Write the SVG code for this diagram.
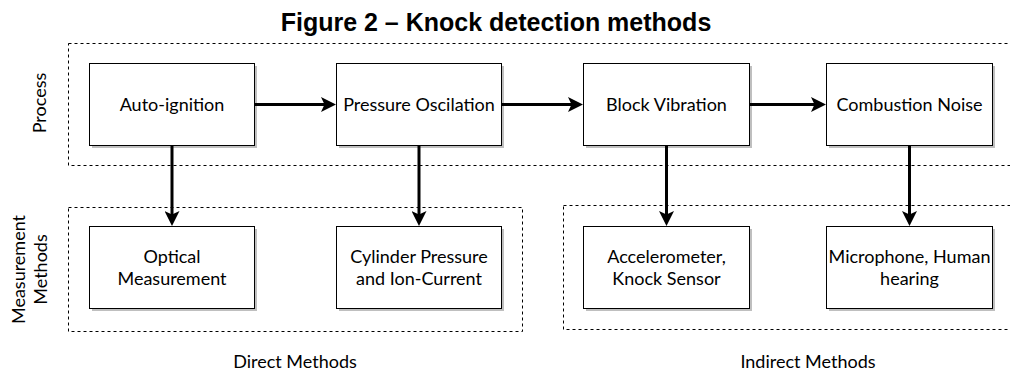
<svg xmlns="http://www.w3.org/2000/svg" width="1010" height="374" viewBox="0 0 1010 374">
<style>
.t{font-family:Lato,"Noto Sans",sans-serif;font-size:18px;fill:#000;text-anchor:middle}
.box{fill:#fff;stroke:#000;stroke-width:1}
.sh{fill:#000;fill-opacity:0.25}
.dash{fill:none;stroke:#000;stroke-width:1;stroke-dasharray:3,3}
.c{fill:none;stroke:#000;stroke-width:3}
.title{font-family:"Liberation Sans",Arial,sans-serif;font-size:25px;font-weight:bold;text-anchor:middle}
</style>
<defs>
<marker id="ah" markerWidth="15" markerHeight="15" refX="5" refY="7.5" orient="auto" markerUnits="userSpaceOnUse" viewBox="0 0 15 15">
<path d="M0,0 L15,7.5 L0,15 L3.5,7.5 Z" fill="#000"/>
</marker>
</defs>
<text class="title" x="496" y="31">Figure 2 – Knock detection methods</text>
<g id="groups">
<rect class="dash" x="68.5" y="43.5" width="950" height="122"/>
<rect class="dash" x="68.5" y="207.5" width="454" height="124"/>
<rect class="dash" x="563.5" y="205.5" width="460" height="124"/>
</g>
<g id="labels">
<text class="t" transform="translate(46,103) rotate(-90)">Process</text>
<text class="t" transform="translate(25,269.5) rotate(-90)">Measurement</text>
<text class="t" transform="translate(46.5,269.5) rotate(-90)">Methods</text>
<text class="t" x="295" y="368">Direct Methods</text>
<text class="t" x="808" y="368">Indirect Methods</text>
</g>
<g id="auto-ignition">
<rect class="sh" x="92" y="66" width="165" height="82"/>
<rect class="box" x="89.5" y="63.5" width="165" height="82"/>
<text class="t" x="172" y="110.5">Auto-ignition</text>
</g>
<g id="pressure-oscilation">
<rect class="sh" x="339" y="66" width="165" height="82"/>
<rect class="box" x="336.5" y="63.5" width="165" height="82"/>
<text class="t" x="419" y="110.5">Pressure Oscilation</text>
</g>
<g id="block-vibration">
<rect class="sh" x="586" y="66" width="166" height="82"/>
<rect class="box" x="583.5" y="63.5" width="166" height="82"/>
<text class="t" x="666.5" y="110.5">Block Vibration</text>
</g>
<g id="combustion-noise">
<rect class="sh" x="829" y="66" width="166" height="82"/>
<rect class="box" x="826.5" y="63.5" width="166" height="82"/>
<text class="t" x="909.5" y="110.5">Combustion Noise</text>
</g>
<g id="optical">
<rect class="sh" x="92" y="229" width="165" height="82"/>
<rect class="box" x="89.5" y="226.5" width="165" height="82"/>
<text class="t" x="172" y="263">Optical</text>
<text class="t" x="172" y="285">Measurement</text>
</g>
<g id="cylinder">
<rect class="sh" x="339" y="229" width="165" height="82"/>
<rect class="box" x="336.5" y="226.5" width="165" height="82"/>
<text class="t" x="419" y="263">Cylinder Pressure</text>
<text class="t" x="419" y="285">and Ion-Current</text>
</g>
<g id="accelerometer">
<rect class="sh" x="586" y="229" width="166" height="82"/>
<rect class="box" x="583.5" y="226.5" width="166" height="82"/>
<text class="t" x="666.5" y="263">Accelerometer,</text>
<text class="t" x="666.5" y="285">Knock Sensor</text>
</g>
<g id="microphone">
<rect class="sh" x="829" y="229" width="166" height="82"/>
<rect class="box" x="826.5" y="226.5" width="166" height="82"/>
<text class="t" x="909.5" y="263">Microphone, Human</text>
<text class="t" x="909.5" y="285">hearing</text>
</g>
<g id="connectors">
<line class="c" x1="255" y1="104.5" x2="326" y2="104.5" marker-end="url(#ah)"/>
<line class="c" x1="502" y1="104.5" x2="573" y2="104.5" marker-end="url(#ah)"/>
<line class="c" x1="750" y1="104.5" x2="816" y2="104.5" marker-end="url(#ah)"/>
<line class="c" x1="172" y1="146" x2="172" y2="216" marker-end="url(#ah)"/>
<line class="c" x1="419" y1="146" x2="419" y2="216" marker-end="url(#ah)"/>
<line class="c" x1="666.5" y1="146" x2="666.5" y2="216" marker-end="url(#ah)"/>
<line class="c" x1="909.5" y1="146" x2="909.5" y2="216" marker-end="url(#ah)"/>
</g>
</svg>
